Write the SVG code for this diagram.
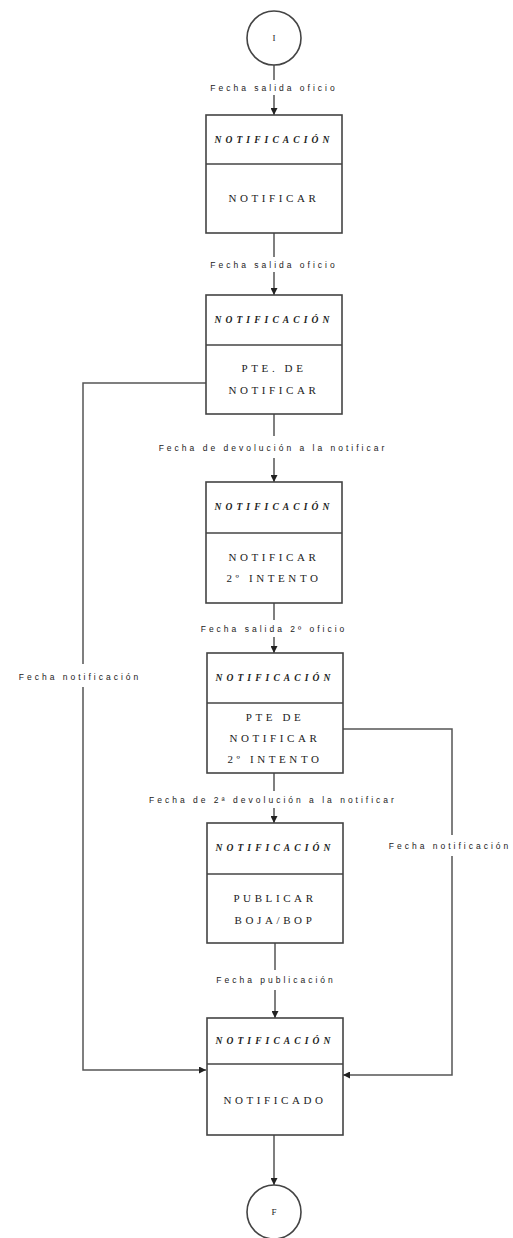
<svg xmlns="http://www.w3.org/2000/svg" width="513" height="1238" viewBox="0 0 513 1238">
  <style>
    .box { fill: #ffffff; stroke: #444; stroke-width: 1.6; }
    .div { stroke: #444; stroke-width: 1.6; }
    .hdr { font-family: "Liberation Serif", serif; font-size: 9.5px; font-style: italic; font-weight: bold; letter-spacing: 4.1px; fill: #222; text-anchor: middle; }
    .body { font-family: "Liberation Serif", serif; font-size: 11px; letter-spacing: 3.6px; fill: #222; text-anchor: middle; }
    .lbl { font-family: "Liberation Sans", sans-serif; font-size: 8.5px; letter-spacing: 3px; fill: #222; text-anchor: middle; }
    .circ { fill: #ffffff; stroke: #444; stroke-width: 1.6; }
    .ctext { font-family: "Liberation Serif", serif; font-size: 9px; fill: #222; text-anchor: middle; }
    .wire { fill: none; stroke: #555; stroke-width: 1.5; }
  </style>
  <defs>
    <marker id="arrow" viewBox="0 0 10 10" refX="10" refY="5" markerWidth="7" markerHeight="7" orient="auto-start-reverse" markerUnits="userSpaceOnUse">
      <path d="M0,0 L10,5 L0,10 z" fill="#222"/>
    </marker>
  </defs>
  <rect width="513" height="1238" fill="#ffffff"/>

  <!-- connectors -->
  <g id="connectors">
    <path class="wire" d="M274,65 V80"/>
    <path class="wire" d="M274,95 V115" marker-end="url(#arrow)"/>
    <path class="wire" d="M274,233 V257"/>
    <path class="wire" d="M274,272 V295" marker-end="url(#arrow)"/>
    <path class="wire" d="M274,414 V436"/>
    <path class="wire" d="M274,458 V482" marker-end="url(#arrow)"/>
    <path class="wire" d="M274,603 V620"/>
    <path class="wire" d="M274,637 V653" marker-end="url(#arrow)"/>
    <path class="wire" d="M274,773 V791"/>
    <path class="wire" d="M274,808 V823" marker-end="url(#arrow)"/>
    <path class="wire" d="M275,943 V970"/>
    <path class="wire" d="M275,990 V1018" marker-end="url(#arrow)"/>
    <path class="wire" d="M274,1135 V1185" marker-end="url(#arrow)"/>
    <!-- left return path -->
    <path class="wire" d="M206,383 H83 V664"/>
    <path class="wire" d="M83,687 V1070 H206" marker-end="url(#arrow)"/>
    <!-- right return path -->
    <path class="wire" d="M342,729 H452 V835"/>
    <path class="wire" d="M452,856 V1075 H343" marker-end="url(#arrow)"/>

    <text class="lbl" x="274" y="91">Fecha salida oficio</text>
    <text class="lbl" x="274" y="268">Fecha salida oficio</text>
    <text class="lbl" x="273" y="451">Fecha de devolución a la notificar</text>
    <text class="lbl" x="274" y="632">Fecha salida 2º oficio</text>
    <text class="lbl" x="273" y="803">Fecha de 2ª devolución a la notificar</text>
    <text class="lbl" x="276" y="983">Fecha publicación</text>
    <text class="lbl" x="80" y="680">Fecha notificación</text>
    <text class="lbl" x="450" y="849">Fecha notificación</text>
  </g>

  <g id="start">
    <circle class="circ" cx="274" cy="38" r="27"/>
    <text class="ctext" x="274" y="41">I</text>
  </g>

  <g id="notificar">
    <rect class="box" x="206" y="115" width="136" height="118"/>
    <line class="div" x1="206" y1="164" x2="342" y2="164"/>
    <text class="hdr" x="274" y="143">NOTIFICACIÓN</text>
    <text class="body" x="274" y="202">NOTIFICAR</text>
  </g>

  <g id="pte-notificar">
    <rect class="box" x="206" y="295" width="136" height="119"/>
    <line class="div" x1="206" y1="345" x2="342" y2="345"/>
    <text class="hdr" x="274" y="323">NOTIFICACIÓN</text>
    <text class="body" x="274" y="372">PTE. DE</text>
    <text class="body" x="274" y="394">NOTIFICAR</text>
  </g>

  <g id="notificar-2">
    <rect class="box" x="206" y="482" width="136" height="121"/>
    <line class="div" x1="206" y1="533" x2="342" y2="533"/>
    <text class="hdr" x="274" y="510">NOTIFICACIÓN</text>
    <text class="body" x="274" y="561">NOTIFICAR</text>
    <text class="body" x="274" y="582">2º INTENTO</text>
  </g>

  <g id="pte-notificar-2">
    <rect class="box" x="207" y="653" width="136" height="120"/>
    <line class="div" x1="207" y1="703" x2="343" y2="703"/>
    <text class="hdr" x="275" y="681">NOTIFICACIÓN</text>
    <text class="body" x="275" y="721">PTE DE</text>
    <text class="body" x="275" y="742">NOTIFICAR</text>
    <text class="body" x="275" y="763">2º INTENTO</text>
  </g>

  <g id="publicar">
    <rect class="box" x="207" y="823" width="136" height="120"/>
    <line class="div" x1="207" y1="874" x2="343" y2="874"/>
    <text class="hdr" x="275" y="851">NOTIFICACIÓN</text>
    <text class="body" x="275" y="902">PUBLICAR</text>
    <text class="body" x="275" y="924">BOJA/BOP</text>
  </g>

  <g id="notificado">
    <rect class="box" x="207" y="1018" width="136" height="117"/>
    <line class="div" x1="207" y1="1064" x2="343" y2="1064"/>
    <text class="hdr" x="275" y="1044">NOTIFICACIÓN</text>
    <text class="body" x="275" y="1104">NOTIFICADO</text>
  </g>

  <g id="end">
    <circle class="circ" cx="274" cy="1212" r="27"/>
    <text class="ctext" x="274" y="1215">F</text>
  </g>
</svg>
